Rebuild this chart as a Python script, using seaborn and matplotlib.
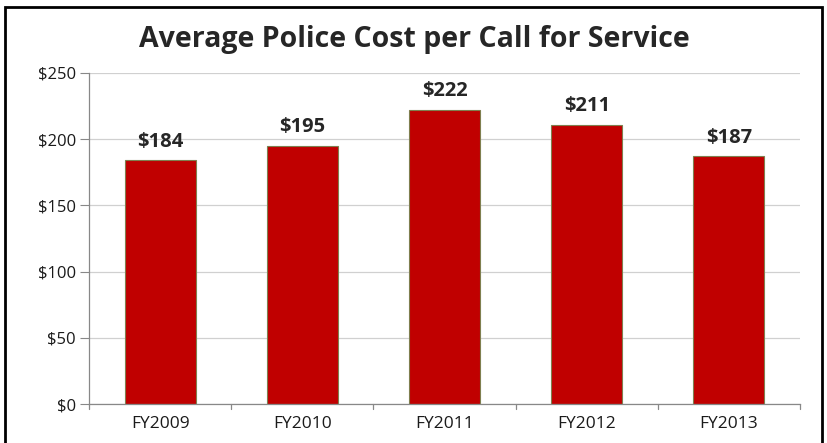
import pandas as pd
import numpy as np
import matplotlib.pyplot as plt
from matplotlib.patches import Rectangle
import seaborn as sns

# data
years = ["FY2009", "FY2010", "FY2011", "FY2012", "FY2013"]
cost = [184, 195, 222, 211, 187]
yticks = [0, 50, 100, 150, 200, 250]

df = pd.DataFrame({"year": years, "cost": cost})

sns.set_style("white")
plt.rcParams['font.family'] = ['Open Sans', 'DejaVu Sans']

fig = plt.figure(figsize=(8.28, 4.43), dpi=100)
ax = fig.add_axes([89 / 828, 39 / 443, 711 / 828, 331 / 443])

sns.barplot(data=df, x="year", y="cost", color="#C00000", width=0.5,
            edgecolor="#7f7f4f", linewidth=0.8, saturation=1, ax=ax)

ax.set_ylim(0, 250)
ax.set_xlim(-0.5, 4.5)
ax.set_yticks(yticks)
ax.set_yticklabels([f"${v}" for v in yticks], fontsize=12, color="#1a1a1a")
ax.tick_params(axis="x", labelsize=12.5, labelcolor="#1a1a1a", length=0, pad=9)
ax.tick_params(axis="y", length=6.5, color="#888888", direction="out", left=True, pad=3)
ax.set_xlabel("")
ax.set_ylabel("")
ax.yaxis.grid(True, color="#d0d0d0", linewidth=0.9)
ax.set_axisbelow(True)
for s in ["top", "right"]:
    ax.spines[s].set_visible(False)
for s in ["left", "bottom"]:
    ax.spines[s].set_color("#888888")
    ax.spines[s].set_linewidth(0.9)

# category boundary ticks on x axis
for b in np.arange(-0.5, 5, 1.0):
    ax.plot([b, b], [0, -4], color="#888888", linewidth=0.9, clip_on=False)

for i, v in enumerate(cost):
    ax.text(i, v + 6.5, f"${v}", ha="center", va="bottom", fontsize=14.5, fontweight="bold")

fig.text(0.5, 1 - 40 / 443, "Average Police Cost per Call for Service",
         ha="center", va="center", fontsize=20.5, fontweight="bold")

# outer frame
fig.add_artist(Rectangle((5 / 828, -0.05), 817 / 828, (443 - 7) / 443 + 0.05,
                         transform=fig.transFigure, fill=False,
                         edgecolor="black", linewidth=2))

fig.savefig("out.png", dpi=100)
